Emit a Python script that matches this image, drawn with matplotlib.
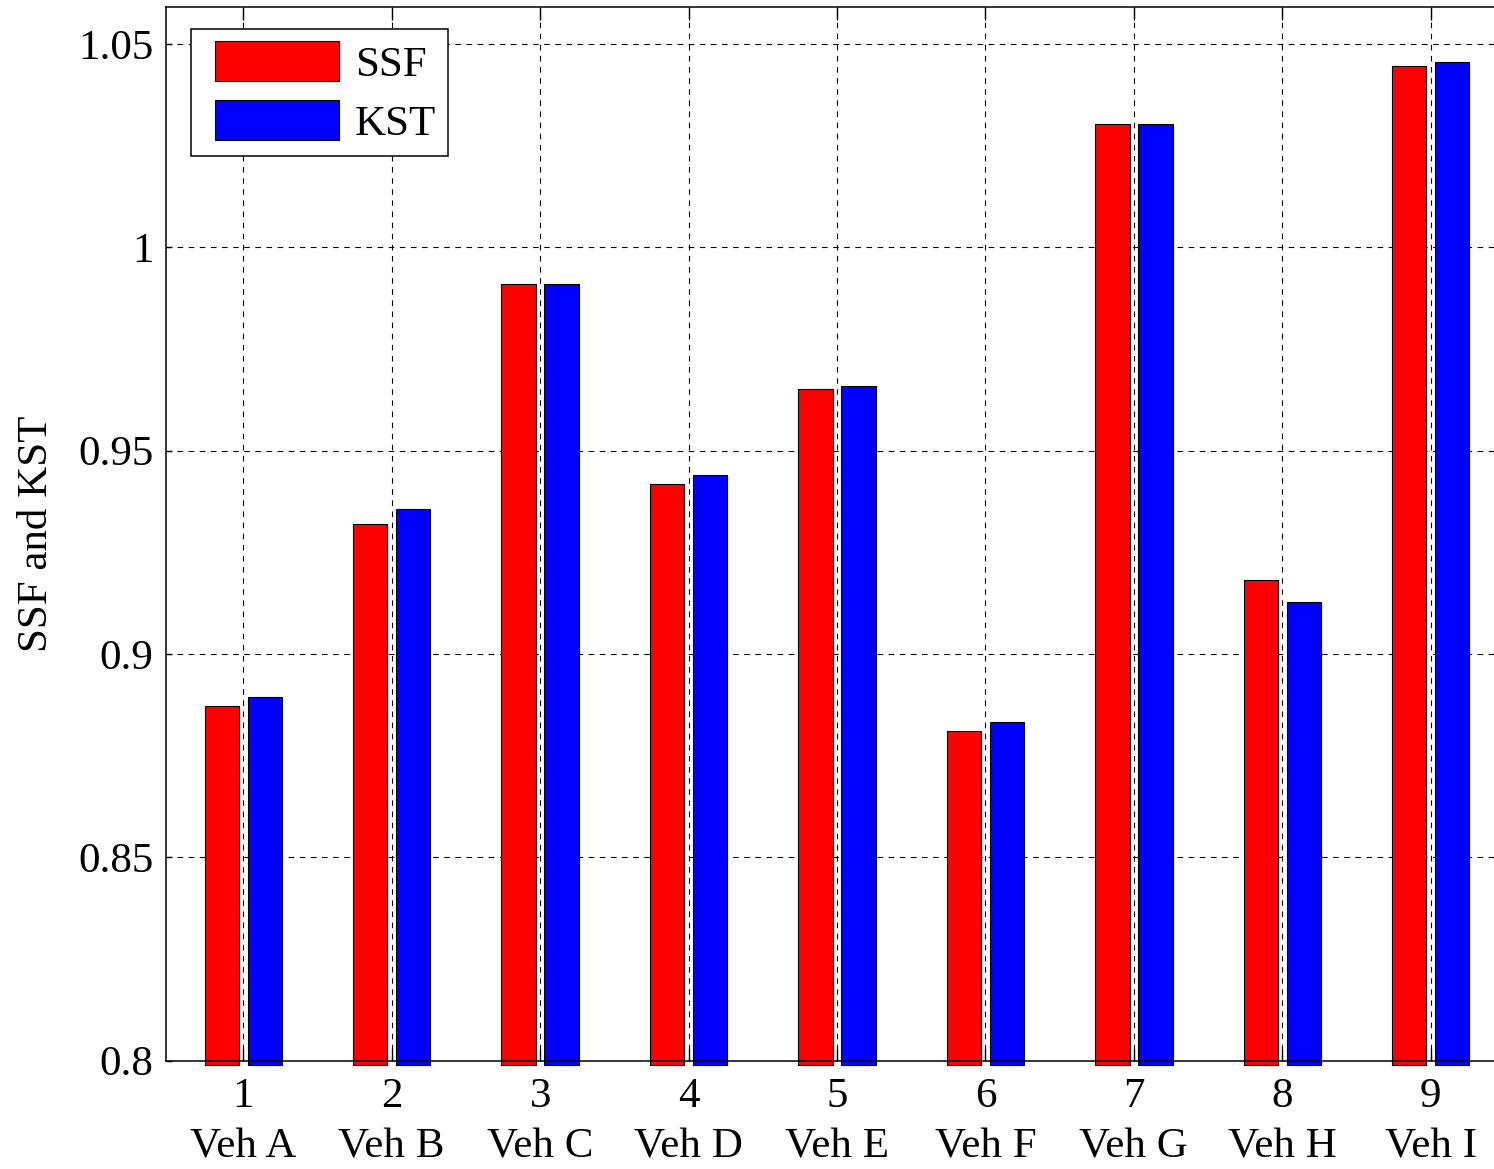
import matplotlib
matplotlib.use("Agg")
import matplotlib.pyplot as plt
from matplotlib.patches import Rectangle
from matplotlib.container import BarContainer
from matplotlib.legend_handler import HandlerPatch, update_from_first_child
import numpy as np

plt.rcParams['font.family'] = ['Liberation Serif', 'DejaVu Serif']

groups = [1, 2, 3, 4, 5, 6, 7, 8, 9]
tick_labels = ["1\nVeh A", "2\nVeh B", "3\nVeh C", "4\nVeh D", "5\nVeh E",
               "6\nVeh F", "7\nVeh G", "8\nVeh H", "9\nVeh I"]
ssf = [0.8872, 0.9320, 0.9910, 0.9418, 0.9652, 0.8811, 1.0304, 0.9182, 1.0446]
kst = [0.8894, 0.9357, 0.9910, 0.9440, 0.9659, 0.8833, 1.0304, 0.9128, 1.0456]

W, H = 1494, 1169
fs = 31
fig = plt.figure(figsize=(W / 100, H / 100), dpi=100)
left_px, right_px, top_px, bot_px = 166, 1508, 7, 1060.6
ax = fig.add_axes([left_px / W, 1 - bot_px / H, (right_px - left_px) / W, (bot_px - top_px) / H])

x = np.array(groups, dtype=float)
base = 0.799
ax.bar(x - 0.145, np.array(ssf) - base, bottom=base, width=0.232, color='#ff0000',
       edgecolor='black', linewidth=0.8, label='SSF', clip_on=False, zorder=3)
ax.bar(x + 0.145, np.array(kst) - base, bottom=base, width=0.232, color='#0000ff',
       edgecolor='black', linewidth=0.8, label='KST', clip_on=False, zorder=3)

ax.set_xlim(0.479, 9.521)
ax.set_ylim(0.8, 1.0591)
ax.set_xticks(groups)
ax.set_xticklabels(tick_labels, fontsize=fs, linespacing=1.42)
ax.set_yticks([0.8, 0.85, 0.9, 0.95, 1.0, 1.05])
ax.set_yticklabels(['0.8', '0.85', '0.9', '0.95', '1', '1.05'], fontsize=fs)
ax.tick_params(axis='x', direction='in', length=9, width=1, top=True, pad=12)
ax.tick_params(axis='y', direction='in', length=4, width=1, right=True, pad=9)
ax.grid(True, linestyle=(0, (5, 5)), color='black', linewidth=0.8, zorder=0)
ax.set_axisbelow(True)
for s in ax.spines.values():
    s.set_linewidth(1.1)
    s.set_zorder(4)

ax.set_ylabel('SSF and KST', fontsize=fs, labelpad=16)

fpx = fs * 100 / 72.0
shift_px = 12.0


def shifted_patch(legend, orig_handle, xdescent, ydescent, width, height, fontsize):
    off = shift_px * 72.0 / 100.0
    return Rectangle((-xdescent + off, -ydescent), width - off, height)


leg = ax.legend(loc='upper left',
                bbox_to_anchor=((191 - left_px) / (right_px - left_px), 1 - (29 - top_px) / (bot_px - top_px)),
                fontsize=fs, handlelength=136 / fpx, handleheight=1.05, handletextpad=0.37,
                borderpad=0.28, labelspacing=0.36, fancybox=False, framealpha=1,
                edgecolor='black', borderaxespad=0,
                handler_map={BarContainer: HandlerPatch(patch_func=shifted_patch,
                                                        update_func=update_from_first_child)})
leg.get_frame().set_linewidth(1.1)

fig.savefig('out.png', dpi=100)
